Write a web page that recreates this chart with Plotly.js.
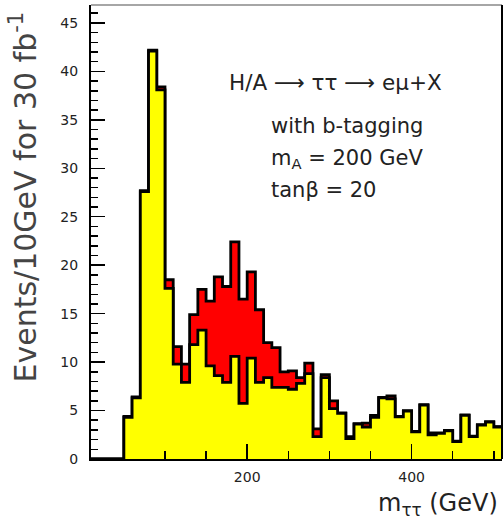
<!DOCTYPE html>
<html>
<head>
<meta charset="utf-8">
<script src="https://cdn.plot.ly/plotly-3.0.1.min.js"></script>
<style>
html,body{margin:0;padding:0;background:#fff;}
#chart{width:503px;height:527px;}
</style>
</head>
<body>
<div id="chart"></div>
<script>
// Bin low edges (GeV), 10 GeV bins
const binLow = [10,20,30,40,50,60,70,80,90,100,110,120,130,140,150,160,170,180,190,200,
  210,220,230,240,250,260,270,280,290,300,310,320,330,340,350,360,370,380,390,400,
  410,420,430,440,450,460,470,480,490,500];
const binWidth = 10;
// Background (yellow) histogram
const background = [0,0,0,0,4.3,6.3,27.6,42.1,38.1,17.6,9.8,7.9,11.8,13.3,9.6,8.6,7.9,10.6,5.75,10.4,
  7.9,8.4,7.4,7.4,7.2,7.8,8.8,2.3,8.4,5.2,4.7,2.1,3.6,3.3,4.3,6.3,6.2,4.35,4.95,2.8,
  5.55,2.5,2.65,2.9,1.8,4.5,2.3,3.5,3.8,3.3];
// Signal + background (red) histogram
const total = [0,0,0,0,4.4,6.4,27.7,42.2,38.4,18.5,11.6,9.8,14.9,17.5,16.3,18.8,17.8,22.4,16.5,19.3,
  15.4,12.0,11.5,9.0,9.1,8.4,9.9,3.1,8.7,6.0,4.75,2.3,3.65,3.7,4.5,6.35,6.5,4.4,5.0,2.85,
  5.6,2.7,2.7,2.95,1.85,4.55,2.35,3.55,3.85,3.35];

function steps(vals){
  const x = binLow.concat([binLow[binLow.length-1] + binWidth]);
  const y = vals.concat([vals[vals.length-1]]);
  return {x, y};
}
const sT = steps(total), sB = steps(background);

const traces = [
  {type:'scatter', mode:'lines', x:sT.x, y:sT.y, line:{shape:'hv', color:'#000', width:2.8},
   fill:'tozeroy', fillcolor:'#ff0000', hoverinfo:'skip', showlegend:false},
  {type:'scatter', mode:'lines', x:sB.x, y:sB.y, line:{shape:'hv', color:'#000', width:2.8},
   fill:'tozeroy', fillcolor:'#ffff00', hoverinfo:'skip', showlegend:false}
];

const F = 'DejaVu Sans, sans-serif';
const PX = v => (v-91)/411;
const PY = v => (459-v)/454;

const layout = {
  width:503, height:527,
  margin:{l:91, r:1, t:5, b:68},
  paper_bgcolor:'#fff', plot_bgcolor:'#fff',
  showlegend:false,
  font:{family:F, color:'#222'},
  xaxis:{range:[10,510], tick0:0, dtick:200, ticks:'inside', ticklen:15, tickwidth:1.5, tickcolor:'#000',
    minor:{dtick:50, tick0:0, ticks:'inside', ticklen:8, tickwidth:1.5, tickcolor:'#000'},
    showgrid:false, zeroline:false, showline:true, linecolor:'#000', linewidth:2,
    tickfont:{family:F, size:14, color:'#222'}, ticklabelstandoff:4},
  yaxis:{range:[0,46.85], tick0:0, dtick:5, ticks:'inside', ticklen:14, tickwidth:1.5, tickcolor:'#000',
    minor:{dtick:1, ticks:'inside', ticklen:7, tickwidth:1.5, tickcolor:'#000'},
    showgrid:false, zeroline:false, showline:true, linecolor:'#000', linewidth:2,
    tickfont:{family:F, size:14, color:'#222'}, ticklabelstandoff:8},
  shapes:[
    {type:'line', xref:'paper', yref:'paper', x0:0, x1:1, y0:1, y1:1, line:{color:'#888', width:1.5}},
    {type:'line', xref:'paper', yref:'paper', x0:1, x1:1, y0:0, y1:1, line:{color:'#000', width:2}}
  ],
  annotations:[
    {xref:'paper', yref:'paper', x:PX(24), y:PY(10), xanchor:'center', yanchor:'top', textangle:-90,
     text:'Events/10GeV for 30 fb<sup>-1</sup>', showarrow:false, font:{family:F, size:30, color:'#444'}},
    {xref:'paper', yref:'paper', x:PX(500), y:PY(505), xanchor:'right', yanchor:'middle',
     text:'m<sub>ττ</sub> (GeV)', showarrow:false, font:{family:F, size:24, color:'#222'}},
    {xref:'paper', yref:'paper', x:PX(227), y:PY(82), xanchor:'left', yanchor:'middle',
     text:'H/A ⟶ ττ ⟶ eμ+X', showarrow:false, font:{family:F, size:21.5, color:'#222'}},
    {xref:'paper', yref:'paper', x:PX(269), y:PY(126), xanchor:'left', yanchor:'middle',
     text:'with b-tagging', showarrow:false, font:{family:F, size:21, color:'#222'}},
    {xref:'paper', yref:'paper', x:PX(269), y:PY(159), xanchor:'left', yanchor:'middle',
     text:'m<sub>A</sub> = 200 GeV', showarrow:false, font:{family:F, size:21, color:'#222'}},
    {xref:'paper', yref:'paper', x:PX(269), y:PY(190), xanchor:'left', yanchor:'middle',
     text:'tanβ = 20', showarrow:false, font:{family:F, size:21, color:'#222'}}
  ]
};

Plotly.newPlot('chart', traces, layout, {staticPlot:true, displayModeBar:false});
</script>
</body>
</html>
